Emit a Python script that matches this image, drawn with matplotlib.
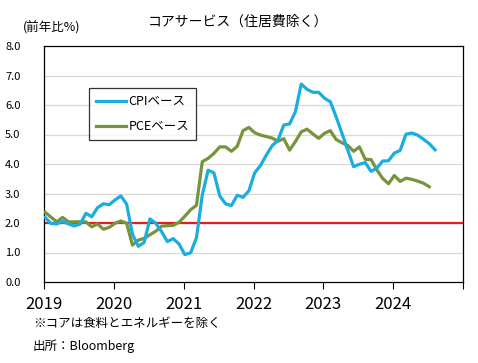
import numpy as np
import matplotlib
matplotlib.use("Agg")
import matplotlib.pyplot as plt

plt.rcParams['font.family'] = ['Noto Sans CJK JP', 'DejaVu Sans']

# monthly yoy %, from Jan 2019
cpi = [2.19, 1.98, 1.97, 2.05, 1.97, 1.90, 1.96, 2.33, 2.21, 2.52, 2.65, 2.62,
       2.78, 2.92, 2.64, 1.62, 1.21, 1.34, 2.14, 1.99, 1.71, 1.37, 1.47, 1.29,
       0.93, 0.99, 1.50, 2.95, 3.79, 3.70, 2.92, 2.65, 2.59, 2.94, 2.87, 3.09,
       3.70, 3.95, 4.30, 4.62, 4.80, 5.32, 5.36, 5.77, 6.71, 6.53, 6.43, 6.43,
       6.23, 6.11, 5.60, 5.04, 4.47, 3.91, 3.99, 4.05, 3.75, 3.86, 4.10, 4.11,
       4.37, 4.46, 5.01, 5.05, 4.98, 4.84, 4.69, 4.48]
pce = [2.36, 2.20, 2.04, 2.19, 2.04, 2.04, 2.04, 2.04, 1.87, 1.97, 1.79, 1.85,
       1.99, 2.07, 1.99, 1.25, 1.42, 1.48, 1.60, 1.72, 1.89, 1.91, 1.92, 2.02,
       2.23, 2.45, 2.60, 4.08, 4.19, 4.36, 4.58, 4.58, 4.43, 4.60, 5.13, 5.24,
       5.06, 4.98, 4.93, 4.88, 4.77, 4.86, 4.47, 4.76, 5.09, 5.18, 5.02, 4.87,
       5.04, 5.13, 4.83, 4.72, 4.63, 4.43, 4.58, 4.16, 4.15, 3.80, 3.51, 3.33,
       3.61, 3.41, 3.52, 3.48, 3.42, 3.35, 3.23]
years = [2019, 2020, 2021, 2022, 2023, 2024, 2025]
year_labels = ['2019', '2020', '2021', '2022', '2023', '2024', '']
ref_level = 2.0

x_cpi = 2019 + (np.arange(len(cpi)) + 0.2) / 12
x_pce = 2019 + (np.arange(len(pce)) + 0.2) / 12

fig = plt.figure(figsize=(4.78, 3.63), dpi=100)
ax = fig.add_axes([44/478, 81/363, 419/478, 236/363])

for v in range(1, 8):
    ax.axhline(v, color='#d9d9d9', lw=0.9, zorder=1)
ax.axhline(ref_level, color='#e0201f', lw=1.6, zorder=2)

ax.plot(x_cpi, cpi, color='#1aade0', lw=2.3, label='CPIベース', zorder=4, solid_joinstyle='round')
ax.plot(x_pce, pce, color='#77933c', lw=2.3, label='PCEベース', zorder=3, solid_joinstyle='round')

ax.set_xlim(2019, 2025)
ax.set_ylim(0, 8)
ax.set_xticks(years)
ax.set_xticklabels(year_labels, fontsize=12)
ax.set_yticks(np.arange(0, 9))
ax.set_yticklabels(['%.1f' % v for v in range(0, 9)], fontsize=8)
ax.tick_params(axis='x', direction='out', length=5, width=0.8, pad=5)
ax.tick_params(axis='y', length=0, pad=17)
for s in ax.spines.values():
    s.set_linewidth(0.9)
    s.set_color('black')

leg = ax.legend(loc='upper left', bbox_to_anchor=(45/419, 1 - 42/236), fontsize=9,
                frameon=True, fancybox=False, edgecolor='black', handlelength=2.4,
                labelspacing=1.0, borderpad=0.55, handletextpad=0.2, borderaxespad=0)
leg.get_frame().set_linewidth(0.9)

fig.text(238/478, 1 - 22/363, 'コアサービス（住居費除く）', ha='center', va='center', fontsize=10)
fig.text(23/478, 1 - 28/363, '(前年比%)', ha='left', va='center', fontsize=9)
fig.text(33/478, 1 - 323/363, '※コアは食料とエネルギーを除く', ha='left', va='center', fontsize=9)
fig.text(33/478, 1 - 346/363, '出所：Bloomberg', ha='left', va='center', fontsize=9)

fig.savefig('out.png', dpi=100)
